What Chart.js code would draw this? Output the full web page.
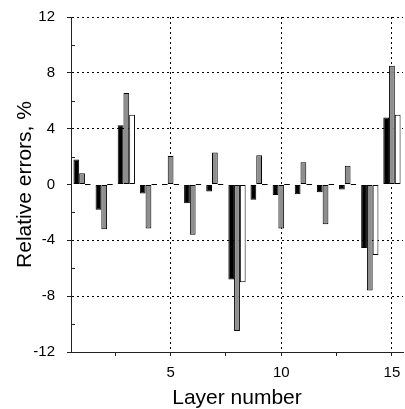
<!DOCTYPE html>
<html lang="en">
<head>
<meta charset="UTF-8">
<title>Relative errors by layer</title>
<script src="https://cdn.jsdelivr.net/npm/chart.js"></script>
<style>
  body { margin: 0; background: #fff; }
  canvas { display: block; }
</style>
</head>
<body>
<canvas id="errChart" width="405" height="409"></canvas>
<script>
    // layer numbers and the three error series (%)
    const layers = [1, 2, 3, 4, 5, 6, 7, 8, 9, 10, 11, 12, 13, 14, 15];
    const blackErr = [1.8, -1.8, 4.25, -0.65, 0, -1.35, -0.5, -6.8, -1.1, -0.75, -0.7, -0.55, -0.35, -4.55, 4.8];
    const grayErr = [0.8, -3.2, 6.55, -3.15, 2.05, -3.6, 2.3, -10.5, 2.1, -3.15, 1.6, -2.85, 1.35, -7.6, 8.5];
    const whiteErr = [0, 0, 5.0, 0, 0, 0, 0, -7.0, 0, 0, 0, 0, 0, -5.05, 5.0];

    // axis ticks
    const xTicks = [2.5, 5, 7.5, 10, 12.5, 15];
    const xLabelled = [5, 10, 15];
    const yGrid = [12, 8, 4, -4, -8];
    const yMinor = [10, 6, 2, -2, -6, -10];

    const font = "'Liberation Sans', Arial, sans-serif";
    const clear = 'rgba(0,0,0,0)';
    const tickVal = c => (c && c.tick) ? c.tick.value : NaN;

    // small ticks on the inside of the y axis
    const innerTicks = {
        id: 'innerTicks',
        afterDraw(chart) {
            const y = chart.scales.y;
            const left = chart.chartArea.left;
            const ctx = chart.ctx;
            ctx.save();
            ctx.strokeStyle = '#222';
            ctx.lineWidth = 1;
            yMinor.forEach(v => {
                const py = Math.round(y.getPixelForValue(v)) + 0.5;
                ctx.beginPath();
                ctx.moveTo(left, py);
                ctx.lineTo(left + 4, py);
                ctx.stroke();
            });
            ctx.restore();
        }
    };

    new Chart(document.getElementById('errChart'), {
        type: 'bar',
        data: {
            labels: layers,
            datasets: [{
                data: blackErr,
                backgroundColor: '#000',
                borderColor: '#000',
                borderWidth: 1,
                borderSkipped: false,
                minBarLength: 1
            }, {
                data: grayErr,
                backgroundColor: '#8e8e8e',
                borderColor: '#000',
                borderWidth: 1,
                borderSkipped: false,
                minBarLength: 1
            }, {
                data: whiteErr,
                backgroundColor: '#fff',
                borderColor: '#000',
                borderWidth: 1,
                borderSkipped: false,
                minBarLength: 1
            }]
        },
        options: {
            responsive: false,
            animation: false,
            layout: { padding: { top: 17, right: 2, left: 0, bottom: 0 } },
            datasets: { bar: { barPercentage: 1, categoryPercentage: 0.78 } },
            plugins: {
                legend: { display: false },
                tooltip: { enabled: false }
            },
            scales: {
                x: { display: false },
                xl: {
                    type: 'linear',
                    position: 'bottom',
                    min: 0.5,
                    max: 15.5,
                    offset: false,
                    afterBuildTicks: s => { s.ticks = xTicks.map(v => ({ value: v })); },
                    afterFit: s => { s.height = 57; s.paddingLeft = 0; s.paddingRight = 0; },
                    grid: {
                        offset: false,
                        color: c => xLabelled.includes(tickVal(c)) ? '#000' : clear,
                        tickColor: '#222',
                        tickLength: 4,
                        lineWidth: 1
                    },
                    border: { display: true, color: '#222', width: 1, dash: [2, 3] },
                    ticks: {
                        color: '#000',
                        padding: 8,
                        maxRotation: 0,
                        autoSkip: false,
                        font: { family: font, size: 15 },
                        callback: v => xLabelled.includes(v) ? String(v) : ''
                    },
                    title: {
                        display: true,
                        text: 'Layer number',
                        color: '#000',
                        font: { family: font, size: 21, lineHeight: 1 },
                        padding: { top: 0, bottom: 0 }
                    }
                },
                y: {
                    min: -12,
                    max: 12,
                    ticks: {
                        stepSize: 2,
                        color: '#000',
                        padding: 12,
                        autoSkip: false,
                        font: { family: font, size: 15 },
                        callback: v => v % 4 === 0 ? String(v) : ''
                    },
                    afterFit: s => { s.width = 71; s.paddingTop = 0; s.paddingBottom = 0; },
                    grid: {
                        color: c => yGrid.includes(tickVal(c)) ? '#000' : clear,
                        tickColor: c => tickVal(c) % 4 === 0 ? '#222' : clear,
                        tickLength: 4,
                        lineWidth: 1
                    },
                    border: { display: true, color: '#222', width: 1, dash: [2, 3] },
                    title: {
                        display: true,
                        text: 'Relative errors, %',
                        color: '#000',
                        font: { family: font, size: 21, lineHeight: 1 },
                        padding: { top: 15, bottom: 0 }
                    }
                }
            }
        },
        plugins: [innerTicks]
    });
</script>
</body>
</html>
